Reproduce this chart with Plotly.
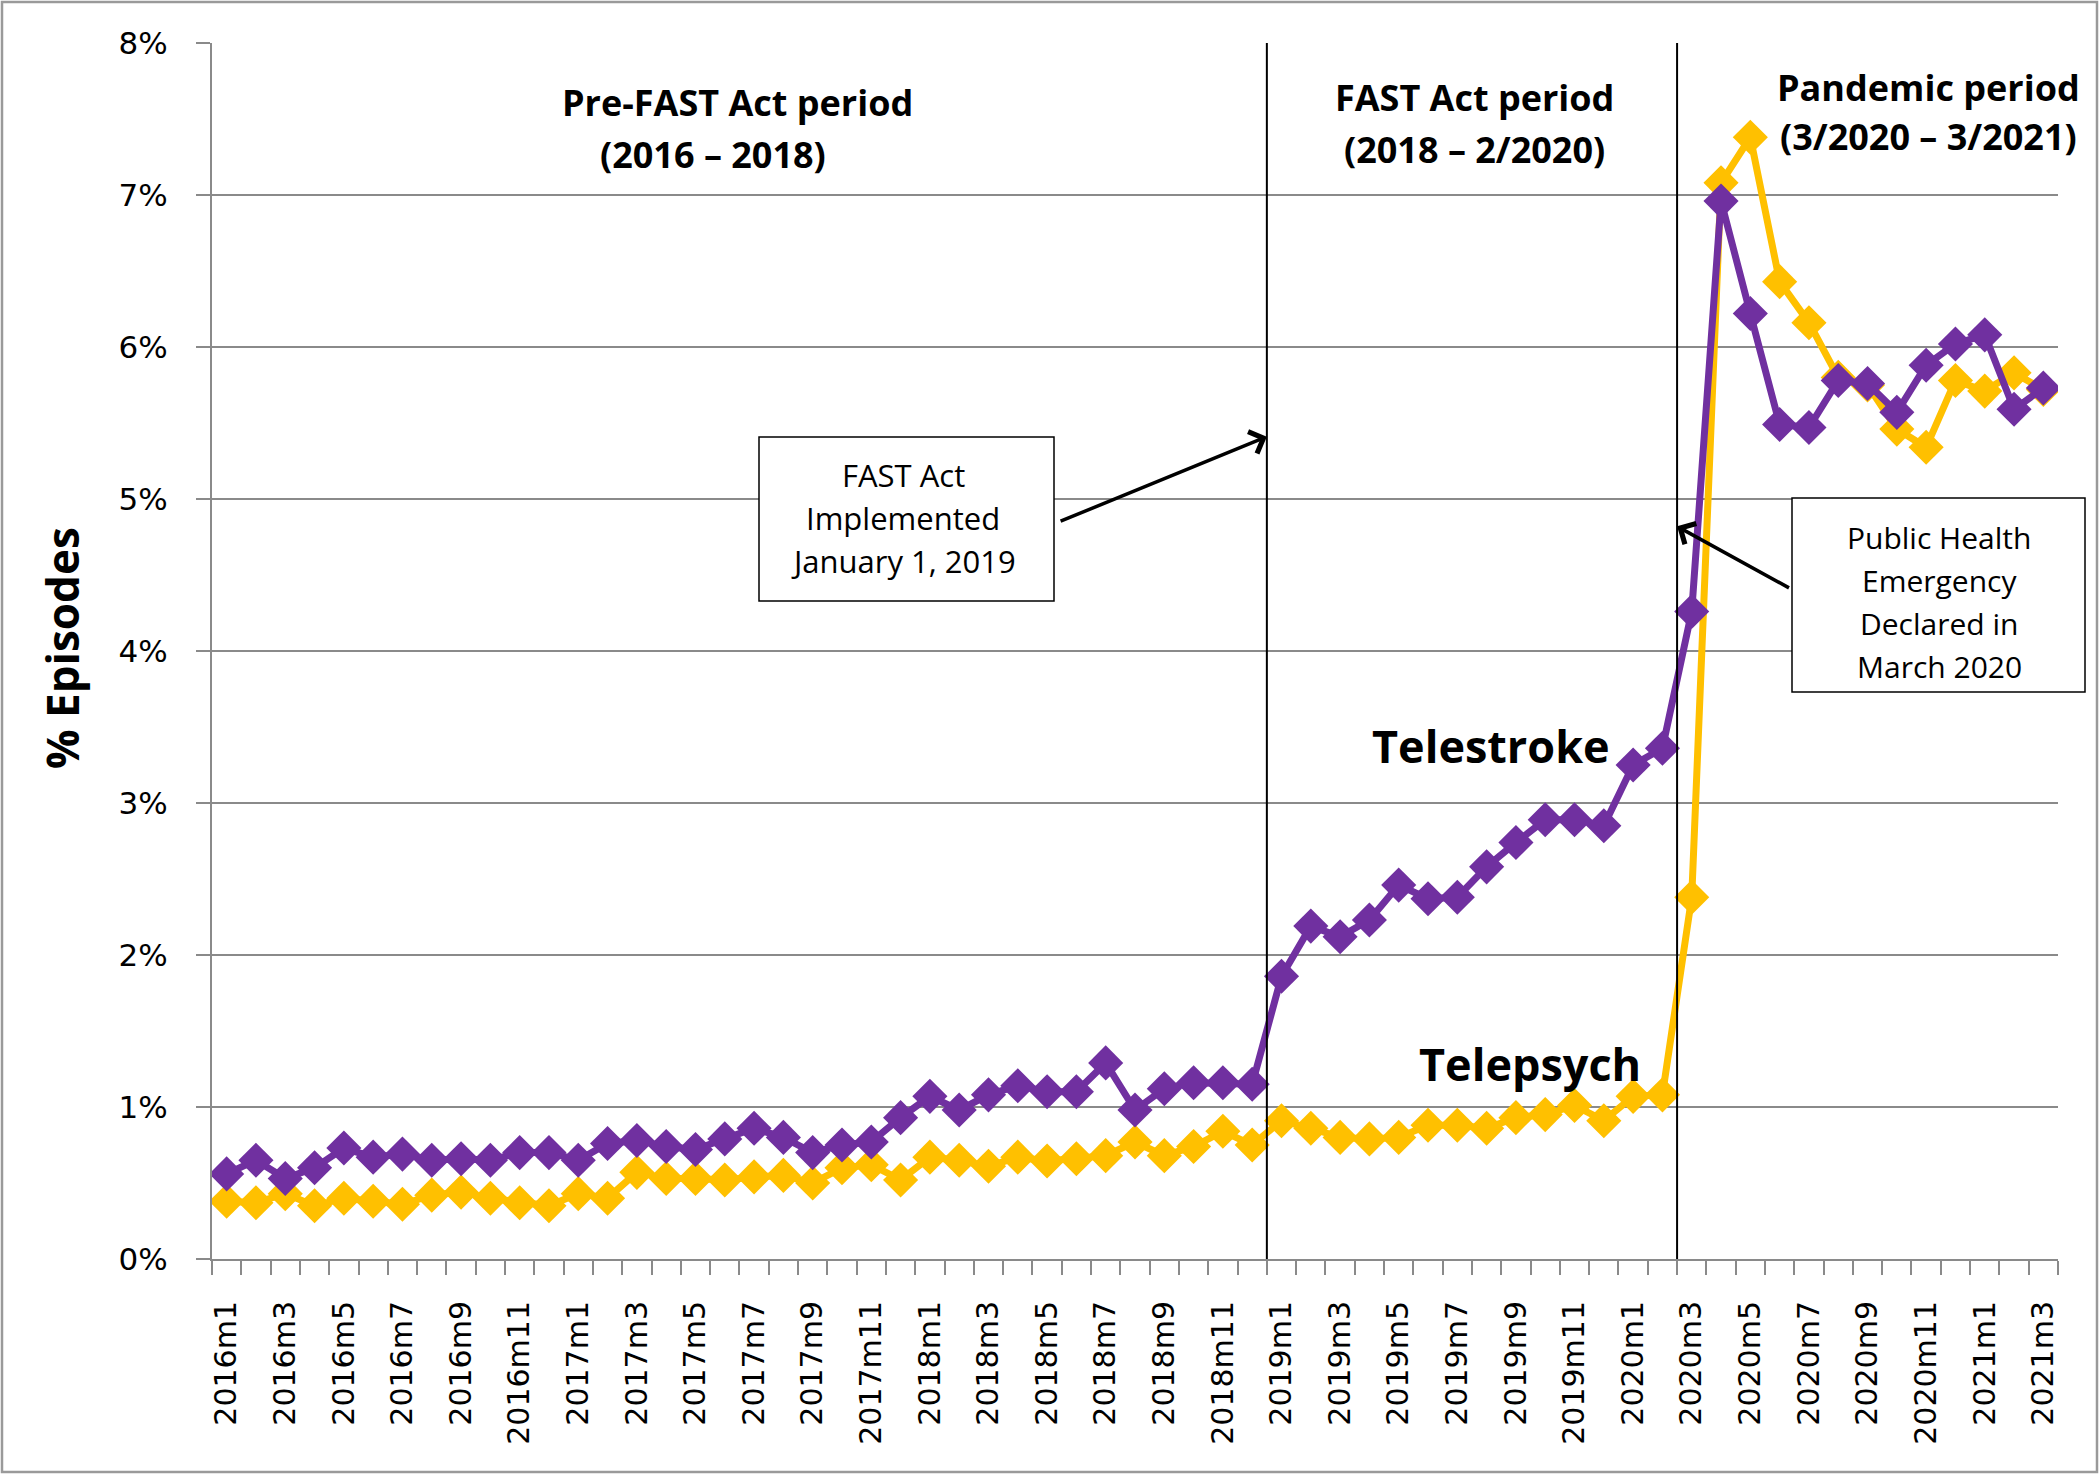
import plotly.graph_objects as go

# months 2016m1 .. 2021m3
months = [f"{y}m{m}" for y in range(2016, 2022) for m in range(1, 13)][:63]

telestroke = [0.56, 0.65, 0.53, 0.60, 0.73, 0.67, 0.69, 0.65, 0.66, 0.65, 0.70, 0.70,
              0.65, 0.76, 0.78, 0.74, 0.72, 0.79, 0.86, 0.80, 0.70, 0.75, 0.77, 0.93,
              1.07, 0.98, 1.08, 1.14, 1.10, 1.10, 1.29, 0.98, 1.12, 1.16, 1.16, 1.15,
              1.86, 2.19, 2.12, 2.23, 2.46, 2.37, 2.38, 2.58, 2.74, 2.89, 2.89, 2.85,
              3.25, 3.36, 4.26, 6.96, 6.22, 5.49, 5.47, 5.78, 5.76, 5.57, 5.88, 6.02,
              6.08, 5.59, 5.73]

telepsych = [0.38, 0.37, 0.43, 0.35, 0.40, 0.38, 0.36, 0.42, 0.44, 0.40, 0.37, 0.35,
             0.43, 0.40, 0.57, 0.53, 0.53, 0.52, 0.54, 0.55, 0.50, 0.60, 0.62, 0.52,
             0.67, 0.65, 0.61, 0.67, 0.645, 0.66, 0.68, 0.77, 0.68, 0.74, 0.84, 0.75,
             0.91, 0.86, 0.80, 0.79, 0.80, 0.88, 0.88, 0.86, 0.93, 0.95, 1.01, 0.91,
             1.07, 1.08, 2.38, 7.08, 7.38, 6.43, 6.16, 5.80, 5.75, 5.46, 5.34, 5.78,
             5.71, 5.83, 5.72]

# period boundaries: between 2018m12/2019m1 and 2020m2/2020m3
boundaries = [35.5, 49.5]

PURPLE = "#7030A0"
GOLD = "#FFC000"
GRID = "#8a8a8a"

# plot area in pixels
L, R, T, B = 212, 42, 43, 216
W, H = 2100, 1475
PW, PH = W - L - R, H - T - B


def px(x):
    return (x - L) / PW


def py(y):
    return (H - B - y) / PH


xs = list(range(len(months)))

fig = go.Figure()
fig.add_trace(go.Scatter(x=xs, y=telepsych, mode="lines+markers", name="Telepsych",
                         line=dict(color=GOLD, width=7),
                         marker=dict(symbol="diamond", size=27, color=GOLD)))
fig.add_trace(go.Scatter(x=xs, y=telestroke, mode="lines+markers", name="Telestroke",
                         line=dict(color=PURPLE, width=7),
                         marker=dict(symbol="diamond", size=27, color=PURPLE)))

# vertical period lines
for b in boundaries:
    fig.add_shape(type="line", x0=b, x1=b, y0=0, y1=8, xref="x", yref="y",
                  line=dict(color="black", width=2), layer="above")

# callout boxes
for (x0, x1, y0, y1) in [(759, 1054, 437, 601), (1792, 2085, 498, 692)]:
    fig.add_shape(type="rect", xref="paper", yref="paper",
                  x0=px(x0), x1=px(x1), y0=py(y1), y1=py(y0),
                  line=dict(color="black", width=1.5), fillcolor="white", layer="above")

# outer border
fig.add_shape(type="rect", xref="paper", yref="paper",
              x0=px(2), x1=px(2097), y0=py(1472), y1=py(2),
              line=dict(color="#9a9a9a", width=2.5))

bold = "Open Sans"
annots = []


def txt(text, x, y, size, weight="bold", angle=0):
    annots.append(dict(text=text, x=px(x), y=py(y), xref="paper", yref="paper",
                       showarrow=False, xanchor="center", yanchor="middle",
                       textangle=angle,
                       font=dict(family=bold, size=size, color="black", weight=weight)))


# period headers
txt("Pre-FAST Act period", 737, 102, 36)
txt("(2016 \u2013 2018)", 713, 154, 36)
txt("FAST Act period", 1474, 98, 36)
txt("(2018 \u2013 2/2020)", 1474, 149, 36)
txt("Pandemic period", 1928, 87, 36)
txt("(3/2020 \u2013 3/2021)", 1928, 137, 36)

# series labels
txt("Telestroke", 1491, 745, 45)
txt("Telepsych", 1530, 1063, 45)

# box texts
for i, line in enumerate(["FAST Act", "Implemented", "January 1, 2019"]):
    txt(line, 903, 475 + 43 * i, 31, weight="normal")
for i, line in enumerate(["Public Health", "Emergency", "Declared in", "March 2020"]):
    txt(line, 1939, 537 + 43 * i, 30, weight="normal")

# y axis title
txt("% Episodes", 62, 648, 44, angle=-90)

# arrows
annots.append(dict(x=35.5, y=5.41, ax=28.41, ay=4.85, xref="x", yref="y", axref="x", ayref="y",
                   text="", showarrow=True, arrowhead=4, arrowsize=1.3, arrowwidth=3.5,
                   arrowcolor="black"))
annots.append(dict(x=49.5, y=4.82, ax=53.37, ay=4.41, xref="x", yref="y", axref="x", ayref="y",
                   text="", showarrow=True, arrowhead=4, arrowsize=1.3, arrowwidth=3.5,
                   arrowcolor="black"))

fig.update_layout(
    width=W, height=H,
    margin=dict(l=L, r=R, t=T, b=B),
    paper_bgcolor="white", plot_bgcolor="white",
    showlegend=False,
    annotations=annots,
    font=dict(family="DejaVu Sans", size=31, color="black"),
)

fig.update_xaxes(
    range=[-0.5, len(months) - 0.5],
    tickmode="array", tickvals=xs[::2], ticktext=months[::2],
    tickangle=-90, ticks="", showgrid=False, zeroline=False,
    showline=True, linecolor=GRID, linewidth=2,
    ticklabelstandoff=28,
    tickfont=dict(family="DejaVu Sans", size=30, color="black"),
    minor=dict(tickmode="array", tickvals=[i - 0.5 for i in range(len(months) + 1)],
               ticks="outside", ticklen=14, tickwidth=2, tickcolor=GRID, showgrid=False),
)

fig.update_yaxes(
    range=[0, 8], dtick=1, ticksuffix="%",
    showgrid=True, gridcolor=GRID, gridwidth=2, zeroline=False,
    showline=True, linecolor=GRID, linewidth=2,
    ticks="outside", ticklen=14, tickwidth=2, tickcolor=GRID,
    ticklabelstandoff=22,
    tickfont=dict(family="DejaVu Sans", size=31, color="black"),
)

# drop the default page margin so the figure sits at the window origin
fig.write_html("out.html", config={"displayModeBar": False},
               post_script="document.body.style.margin='0';")
